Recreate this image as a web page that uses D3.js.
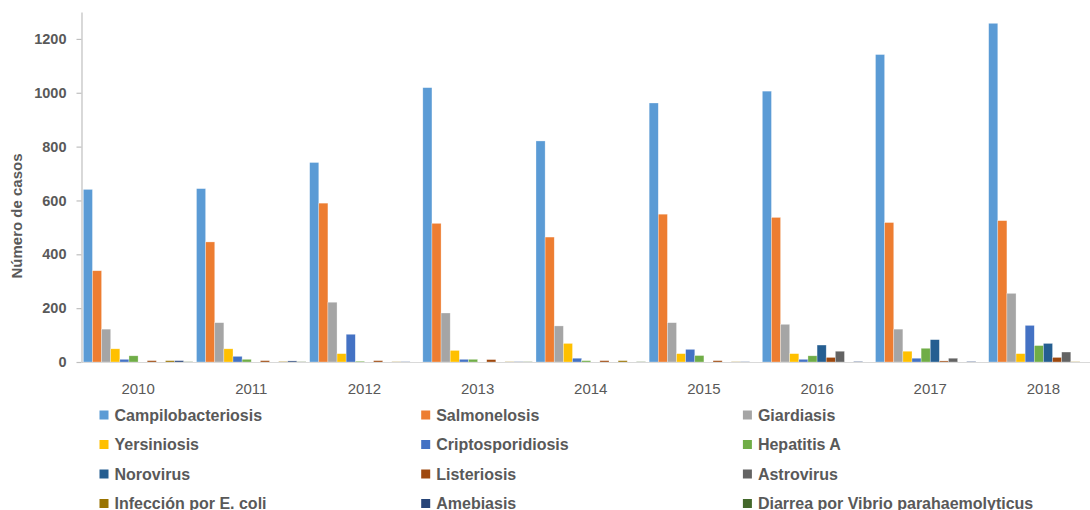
<!DOCTYPE html>
<html>
<head>
<meta charset="utf-8">
<script src="https://cdn.jsdelivr.net/npm/d3@7"></script>
<style>
	html, body { margin: 0; padding: 0; background: #fff; overflow: hidden; }
	#chart-container { width: 1090px; height: 510px; }
</style>
</head>
<body>
<div id="chart-container"></div>
<script>
// Data
var years = ['2010', '2011', '2012', '2013', '2014', '2015', '2016', '2017', '2018'];

var seriesNames = [
	'Campilobacteriosis', 'Salmonelosis', 'Giardiasis',
	'Yersiniosis', 'Criptosporidiosis', 'Hepatitis A',
	'Norovirus', 'Listeriosis', 'Astrovirus',
	'Infección por E. coli', 'Amebiasis', 'Diarrea por Vibrio parahaemolyticus'
];

var campilobacteriosis = [641, 644, 741, 1019, 821, 962, 1006, 1142, 1258];
var salmonelosis = [339, 446, 590, 515, 464, 549, 537, 518, 525];
var giardiasis = [122, 146, 222, 182, 134, 146, 140, 122, 255];
var yersiniosis = [49, 49, 31, 43, 69, 31, 31, 40, 31];
var criptosporidiosis = [10, 21, 103, 10, 14, 47, 10, 14, 136];
var hepatitisA = [23, 10, 3, 10, 5, 24, 23, 51, 61];
var norovirus = [0, 0, 0, 0, 0, 0, 63, 83, 69];
var listeriosis = [5, 5, 5, 9, 5, 5, 17, 4, 17];
var astrovirus = [0, 0, 0, 0, 0, 0, 40, 14, 37];
var ecoli = [5, 2, 1, 1, 5, 1, 0, 0, 1];
var amebiasis = [5, 4, 1, 1, 0, 1, 2, 2, 0];
var vibrio = [1, 1, 0, 1, 1, 0, 0, 0, 0];

var seriesValues = [
	campilobacteriosis, salmonelosis, giardiasis,
	yersiniosis, criptosporidiosis, hepatitisA,
	norovirus, listeriosis, astrovirus,
	ecoli, amebiasis, vibrio
];

var yTicks = [0, 200, 400, 600, 800, 1000, 1200];

function Chart() {
	var attrs = {
		svgWidth: 1090,
		svgHeight: 510,
		container: '#chart-container',
		plotLeft: 81.5,
		plotRight: 1100,   // plot runs a bit past the right edge of the picture
		plotTop: 12,
		plotBottom: 362,
		yMax: 1300,
		textFill: '#595959',
		font: '"Liberation Sans", Arial, sans-serif',
		colorPalette: ['#5B9BD5', '#ED7D31', '#A5A5A5', '#FFC000', '#4472C4', '#70AD47',
			'#255E91', '#9E480E', '#636363', '#997300', '#264478', '#43682B']
	};

	var main = function () {
		var container = d3.select(attrs.container);

		var svg = container.append('svg')
			.attr('width', attrs.svgWidth)
			.attr('height', attrs.svgHeight)
			.style('font-family', attrs.font);

		var x0 = d3.scaleBand()
			.domain(years)
			.range([attrs.plotLeft, attrs.plotRight]);

		var x1 = d3.scaleBand()
			.domain(seriesNames)
			.range([0, x0.bandwidth()])
			.paddingOuter(0.2);

		var y = d3.scaleLinear()
			.domain([0, attrs.yMax])
			.range([attrs.plotBottom, attrs.plotTop]);

		var color = d3.scaleOrdinal()
			.domain(seriesNames)
			.range(attrs.colorPalette);

		// Bars
		var groups = svg.selectAll('.year-group')
			.data(years)
			.enter()
			.append('g')
			.attr('class', 'year-group')
			.attr('transform', d => 'translate(' + x0(d) + ',0)');

		groups.selectAll('rect')
			.data((year, i) => seriesNames.map((name, s) => ({ name: name, value: seriesValues[s][i] })))
			.enter()
			.filter(d => d.value > 0)
			.append('rect')
			.attr('x', d => x1(d.name))
			.attr('y', d => y(d.value))
			.attr('width', x1.bandwidth())
			.attr('height', d => y(0) - y(d.value))
			.attr('fill', d => color(d.name))
			.attr('stroke', '#fff')
			.attr('stroke-opacity', 0.5)
			.attr('stroke-width', 0.6);

		// X axis
		var xAxis = svg.append('g')
			.attr('transform', 'translate(0,' + attrs.plotBottom + ')')
			.call(d3.axisBottom(x0).tickSize(0).tickPadding(21));
		xAxis.select('.domain').attr('stroke', '#d9d9d9').attr('stroke-width', 1.2);
		xAxis.selectAll('text')
			.attr('fill', attrs.textFill)
			.style('font-size', '15px');

		// Y axis
		var yAxis = svg.append('g')
			.attr('transform', 'translate(' + attrs.plotLeft + ',0)')
			.call(d3.axisLeft(y).tickValues(yTicks).tickFormat(d3.format('d'))
				.tickSize(5).tickPadding(10).tickSizeOuter(0));
		yAxis.select('.domain').attr('stroke', '#bfbfbf').attr('stroke-width', 1.2);
		yAxis.selectAll('.tick line').attr('stroke', '#bfbfbf').attr('stroke-width', 1.2);
		yAxis.selectAll('text')
			.attr('fill', attrs.textFill)
			.style('font-size', '14.5px')
			.style('font-weight', 'bold');

		svg.append('text')
			.attr('transform', 'translate(22,216) rotate(-90)')
			.attr('text-anchor', 'middle')
			.attr('fill', attrs.textFill)
			.style('font-size', '15px')
			.style('font-weight', 'bold')
			.text('Número de casos');

		// Legend, 3 columns (last row is cut by the bottom edge, as in the picture)
		var legend = svg.selectAll('.legend-item')
			.data(seriesNames)
			.enter()
			.append('g')
			.attr('class', 'legend-item')
			.attr('transform', (d, i) => 'translate(' + (99.5 + (i % 3) * 321.7) + ',' + (415 + Math.floor(i / 3) * 29.5) + ')');

		legend.append('rect')
			.attr('x', 0)
			.attr('y', -4.5)
			.attr('width', 9)
			.attr('height', 9)
			.attr('fill', d => color(d));

		legend.append('text')
			.attr('x', 15)
			.attr('dy', '0.36em')
			.attr('fill', attrs.textFill)
			.style('font-size', '16px')
			.style('font-weight', 'bold')
			.text(d => d);
	};

	main.render = function () {
		main();
		return main;
	};

	return main;
}

Chart().render();
</script>
</body>
</html>
